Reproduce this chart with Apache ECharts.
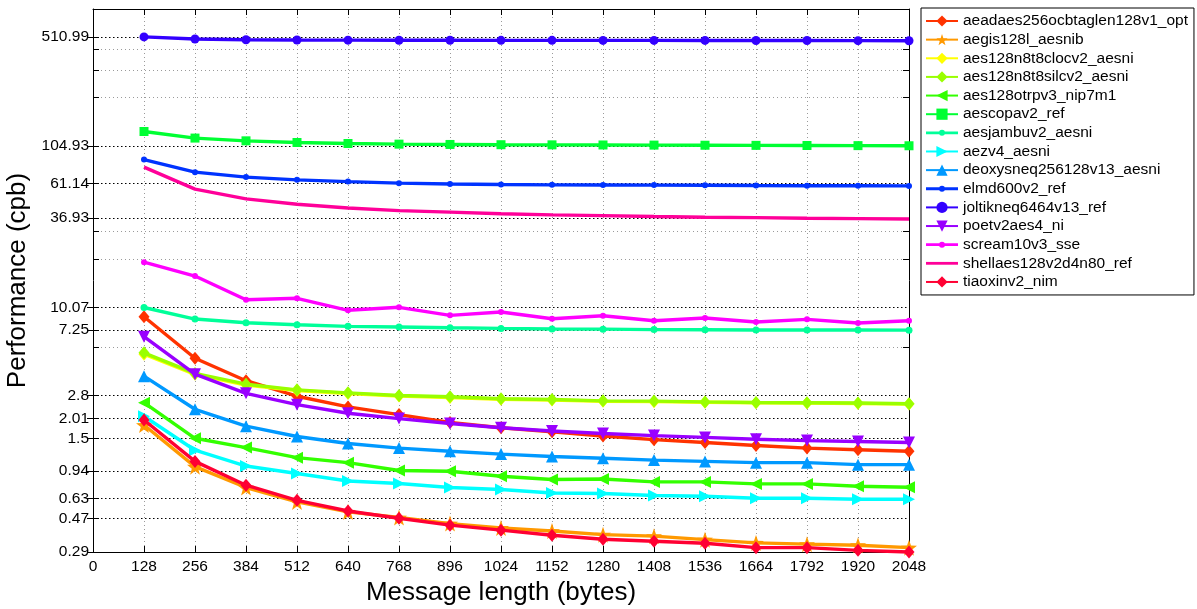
<!DOCTYPE html>
<html>
<head>
<meta charset="utf-8">
<script src="https://cdn.jsdelivr.net/npm/echarts@6/dist/echarts.min.js"></script>
<style>
html,body{margin:0;padding:0;background:#fff;}
#chart{width:1197px;height:609px;}
</style>
</head>
<body>
<div id="chart"></div>
<script>
// ---------------- data ----------------
const xValues = [128,256,384,512,640,768,896,1024,1152,1280,1408,1536,1664,1792,1920,2048];
const yMajorTicks = [0.29,0.47,0.63,0.94,1.5,2.01,2.8,7.25,10.07,36.93,61.14,104.93,510.99];
const yMinorTicks = [5.62,20.3,30.6,212,317,428];

const seriesNames = [
  'aeadaes256ocbtaglen128v1_opt','aegis128l_aesnib','aes128n8t8clocv2_aesni','aes128n8t8silcv2_aesni',
  'aes128otrpv3_nip7m1','aescopav2_ref','aesjambuv2_aesni','aezv4_aesni','deoxysneq256128v13_aesni',
  'elmd600v2_ref','joltikneq6464v13_ref','poetv2aes4_ni','scream10v3_sse','shellaes128v2d4n80_ref','tiaoxinv2_nim'
];

const aeadaes = [8.81,4.82,3.48,2.78,2.38,2.13,1.90,1.76,1.66,1.56,1.48,1.42,1.36,1.31,1.28,1.25];
const aegis   = [1.83,1.00,0.739,0.600,0.519,0.478,0.438,0.411,0.393,0.373,0.365,0.347,0.331,0.325,0.320,0.309];
const clocv2  = [5.12,3.82,3.27,3.02,2.89,2.79,2.73,2.66,2.63,2.58,2.57,2.55,2.53,2.52,2.50,2.48];
const silcv2  = [5.22,3.87,3.31,3.05,2.92,2.81,2.76,2.68,2.65,2.60,2.59,2.56,2.54,2.53,2.52,2.49];
const otrpv3  = [2.53,1.51,1.32,1.14,1.06,0.946,0.936,0.871,0.830,0.836,0.802,0.802,0.779,0.779,0.753,0.742];
const aescopa = [129.5,117.7,113.1,110.4,108.8,107.8,107.3,106.9,106.7,106.5,106.3,106.1,105.9,105.7,105.5,105.3];
const jambu   = [10.07,8.52,8.08,7.85,7.66,7.59,7.51,7.44,7.38,7.36,7.31,7.29,7.27,7.26,7.26,7.25];
const aezv4   = [2.08,1.27,1.01,0.906,0.813,0.783,0.739,0.718,0.683,0.677,0.658,0.651,0.633,0.633,0.624,0.624];
const deoxys  = [3.72,2.30,1.80,1.55,1.40,1.31,1.25,1.20,1.16,1.13,1.10,1.08,1.06,1.06,1.03,1.03];
const elmd    = [86.2,71.8,66.8,64.2,62.6,61.2,60.4,60.0,59.7,59.6,59.5,59.4,59.1,59.0,58.9,58.8];
const joltik  = [510.99,495.6,490.5,488.4,487.5,487.0,486.5,486.2,486.0,485.8,485.6,485.4,485.0,484.6,484.0,483.3];
const poet    = [6.59,3.83,2.90,2.46,2.17,2.01,1.87,1.76,1.68,1.62,1.57,1.53,1.49,1.46,1.44,1.42];
const scream  = [19.43,15.9,11.28,11.51,9.67,10.1,8.99,9.43,8.56,8.94,8.31,8.65,8.16,8.48,8.04,8.31];
const shellaes= [77.2,56.1,48.7,45.1,42.7,41.1,40.2,39.3,38.6,38.2,37.7,37.3,37.1,36.8,36.6,36.4];
const tiaoxin = [1.97,1.08,0.764,0.614,0.526,0.473,0.428,0.398,0.370,0.349,0.339,0.329,0.309,0.309,0.297,0.29];

const seriesValues = [aeadaes,aegis,clocv2,silcv2,otrpv3,aescopa,jambu,aezv4,deoxys,elmd,joltik,poet,scream,shellaes,tiaoxin];

// ---------------- styles ----------------
const colors = ['#ff3300','#ff9900','#ffff00','#99ff00','#33ff00','#00ff33','#00ff99','#00ffff',
                '#0099ff','#0033ff','#3300ff','#9900ff','#ff00ff','#ff0099','#ff0033'];
const STAR = 'path://M0,-10L2.35,-3.24L9.51,-3.09L3.8,1.24L5.88,8.09L0,4L-5.88,8.09L-3.8,1.24L-9.51,-3.09L-2.35,-3.24Z';
const markers = [
  {symbol:'diamond', size:[11,13], rot:0},
  {symbol:STAR, size:16, rot:0},
  {symbol:'diamond', size:[11,13], rot:0},
  {symbol:'diamond', size:[11,13], rot:0},
  {symbol:'triangle', size:12, rot:90},
  {symbol:'rect', size:9, rot:0},
  {symbol:'circle', size:7, rot:0, point:true},
  {symbol:'triangle', size:12, rot:-90},
  {symbol:'triangle', size:12, rot:0},
  {symbol:'circle', size:6, rot:0, point:true},
  {symbol:'circle', size:9, rot:0},
  {symbol:'triangle', size:12, rot:180},
  {symbol:'circle', size:6, rot:0, point:true},
  {symbol:'none', size:0, rot:0, none:true},
  {symbol:'diamond', size:[11,13], rot:0}
];
const POINT_ICON = 'path://M0,5.6L32,5.6L32,8.4L0,8.4Z M13,7A3,3 0 1,1 19,7A3,3 0 1,1 13,7Z';
const LINE_ICON = 'path://M0,0L32,0L32,2.8L0,2.8Z';

const FONT = '"Liberation Sans", Arial, Helvetica, sans-serif';
const YMIN = 0.29, YMAX = 766;

function yLabel(v){
  let best = yMajorTicks[0];
  for (const t of yMajorTicks) {
    if (Math.abs(Math.log(t) - Math.log(v)) < Math.abs(Math.log(best) - Math.log(v))) best = t;
  }
  return String(best);
}

const logBase = {type:'log', logBase:10, min:YMIN, max:YMAX, gridIndex:0, minorTick:{show:false}, minorSplitLine:{show:false}};

const option = {
  animation:false,
  backgroundColor:'#ffffff',
  grid:{left:93, right:288, top:9, bottom:57, containLabel:false, outerBoundsMode:'none'},
  xAxis:[
    {
      type:'value', min:0, max:2048, interval:128, position:'bottom',
      axisLine:{show:true, onZero:false, lineStyle:{color:'#000', width:1}},
      axisTick:{show:true, inside:true, length:6, lineStyle:{color:'#000'}},
      axisLabel:{show:true, color:'#000', fontSize:15.5, fontFamily:FONT, margin:7, hideOverlap:false,
                 showMinLabel:true, showMaxLabel:true, formatter:(v) => String(Math.round(v))},
      splitLine:{show:true, lineStyle:{color:'#9a9a9a', width:1, type:[1,3]}},
      name:'Message length (bytes)', nameLocation:'middle', nameGap:26,
      nameTextStyle:{color:'#000', fontSize:26, fontFamily:FONT}
    },
    {
      type:'value', min:0, max:2048, interval:128, position:'top',
      axisLine:{show:true, onZero:false, lineStyle:{color:'#000', width:1}},
      axisTick:{show:true, inside:true, length:6, lineStyle:{color:'#000'}},
      axisLabel:{show:false}, splitLine:{show:false}
    }
  ],
  yAxis:[
    Object.assign({}, logBase, {
      position:'left',
      axisLine:{show:true, onZero:false, lineStyle:{color:'#000', width:1}},
      axisTick:{show:true, inside:true, length:6, customValues:yMajorTicks, lineStyle:{color:'#000'}},
      axisLabel:{show:true, customValues:yMajorTicks, formatter:yLabel, color:'#000', fontSize:15.5, fontFamily:FONT, margin:4, hideOverlap:false},
      splitLine:{show:true, lineStyle:{color:'#000', width:1, type:[1.5,2.5]}},
      name:'Performance (cpb)', nameLocation:'middle', nameGap:48,
      nameTextStyle:{color:'#000', fontSize:26, fontFamily:FONT}
    }),
    Object.assign({}, logBase, {
      position:'right',
      axisLine:{show:true, onZero:false, lineStyle:{color:'#000', width:1}},
      axisTick:{show:true, inside:true, length:6, customValues:yMinorTicks, lineStyle:{color:'#000'}},
      axisLabel:{show:false},
      splitLine:{show:true, lineStyle:{color:'#9a9a9a', width:1, type:[1,3]}}
    }),
    Object.assign({}, logBase, {
      position:'right',
      axisLine:{show:false},
      axisTick:{show:true, inside:true, length:6, customValues:yMajorTicks, lineStyle:{color:'#000'}},
      axisLabel:{show:false},
      splitLine:{show:false}
    }),
    Object.assign({}, logBase, {
      position:'left',
      axisLine:{show:false},
      axisTick:{show:true, inside:true, length:6, customValues:yMinorTicks, lineStyle:{color:'#000'}},
      axisLabel:{show:false},
      splitLine:{show:false}
    })
  ],
  legend:{
    orient:'vertical', left:921, top:8,
    itemWidth:32, itemHeight:14, itemGap:2.64,
    padding:[5,6,5,4],
    borderColor:'#000', borderWidth:1, backgroundColor:'#fff', borderRadius:0,
    selectedMode:false,
    textStyle:{color:'#000', fontSize:15.5, fontFamily:FONT, lineHeight:14},
    data: seriesNames.map((n,i) => {
      const m = markers[i];
      if (m.none) return {name:n, icon:LINE_ICON};
      if (m.point) return {name:n, icon:POINT_ICON};
      return {name:n};
    })
  },
  series: seriesNames.map((n,i) => {
    const m = markers[i];
    return {
      name:n, type:'line', xAxisIndex:0, yAxisIndex:0,
      data: xValues.map((x,k) => [x, seriesValues[i][k]]),
      symbol:m.symbol, symbolSize:m.size, symbolRotate:m.rot, showSymbol:!m.none,
      lineStyle:{color:colors[i], width:3.4},
      itemStyle:{color:colors[i]},
      emphasis:{disabled:true},
      clip:false, z:2+i*0.01
    };
  })
};

const chart = echarts.init(document.getElementById('chart'), null, {renderer:'canvas'});
chart.setOption(option);
</script>
</body>
</html>
